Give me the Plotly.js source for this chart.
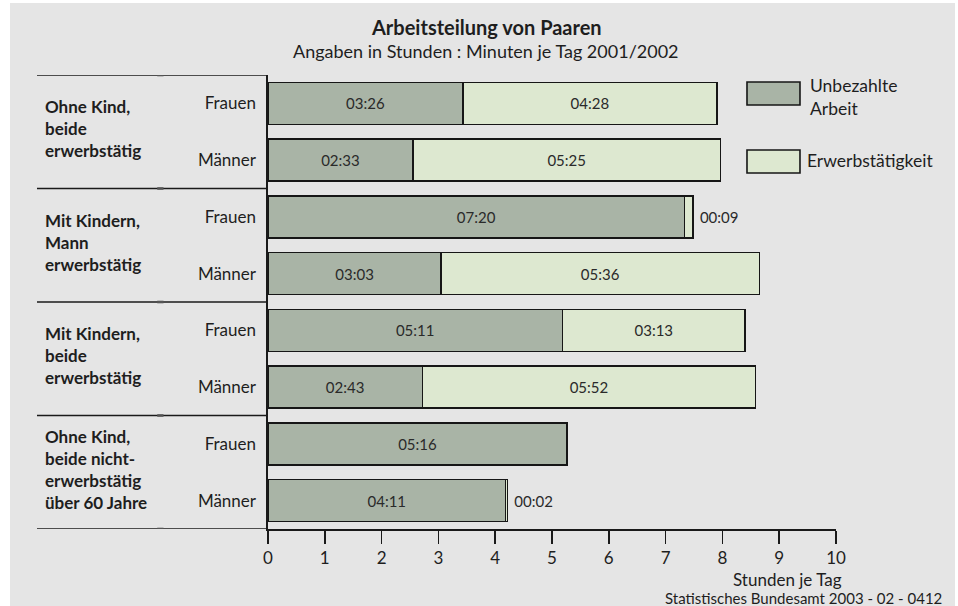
<!DOCTYPE html>
<html>
<head>
<meta charset="utf-8">
<script src="https://cdn.plot.ly/plotly-3.0.1.min.js"></script>
<style>
html,body{margin:0;padding:0;background:#ffffff;width:958px;height:606px;overflow:hidden;}
#chart{position:absolute;left:10px;top:3px;width:945px;height:603px;}
</style>
</head>
<body>
<div id="chart"></div>
<script>
// ---- data ----
const groups = [
  "Ohne Kind,<br>beide<br>erwerbstätig",
  "Mit Kindern,<br>Mann<br>erwerbstätig",
  "Mit Kindern,<br>beide<br>erwerbstätig",
  "Ohne Kind,<br>beide nicht-<br>erwerbstätig<br>über 60 Jahre"
];
const persons = ["Frauen","Männer","Frauen","Männer","Frauen","Männer","Frauen","Männer"];
// hh:mm per day
const unbezahlt = ["03:26","02:33","07:20","03:03","05:11","02:43","05:16","04:11"];
const erwerb    = ["04:28","05:25","00:09","05:36","03:13","05:52","00:00","00:02"];
const xTicks = [0,1,2,3,4,5,6,7,8,9,10];

function toHours(s){const p=s.split(":");return (+p[0])+(+p[1])/60;}
const rows = persons.map((_,i)=>i);
const uVals = unbezahlt.map(toHours);
const eVals = erwerb.map(toHours);

const cUnpaid = "#a9b4a6";
const cPaid = "#dde8d0";
const edge = "#161616";
const font = "Lato, 'Open Sans', sans-serif";
const txt = "#1e1e1e";

const traces = [
  {
    type:"bar", orientation:"h", name:"Unbezahlte Arbeit",
    y: rows, x: uVals, text: unbezahlt,
    textposition: "inside", insidetextanchor:"middle", textangle:0,
    constraintext:"none",
    textfont:{family:font,size:15,color:"#2a2a2a"},
    marker:{color:cUnpaid,line:{color:edge,width:1.6}},
    hoverinfo:"skip"
  },
  {
    type:"bar", orientation:"h", name:"Erwerbstätigkeit",
    y: rows, x: eVals,
    text: erwerb.map((s,i)=> eVals[i]>0 ? (eVals[i]<0.5 ? "\u00a0" + s : s) : ""),
    textposition: eVals.map(v=> v<0.5 ? "outside" : "inside"),
    insidetextanchor:"middle", textangle:0, constraintext:"none", cliponaxis:false,
    textfont:{family:font,size:15,color:"#2a2a2a"},
    marker:{color:cPaid,line:{color:edge,width:eVals.map(v=>v>0?1.6:0)}},
    hoverinfo:"skip"
  }
];

// geometry helpers (paper coords)
const xLeftLines = -0.4067;
const shapes = [];
[-0.5,1.5,3.5,5.5,7.5].forEach(yv=>{
  shapes.push({type:"line",xref:"paper",yref:"y",x0:xLeftLines,x1:0,y0:yv,y1:yv,
    line:{color:"#1a1a1a",width:1.6}});
  shapes.push({type:"line",xref:"paper",yref:"y",x0:-0.195,x1:-0.184,y0:yv,y1:yv,
    line:{color:"#555",width:2.6}});
});
// legend boxes
shapes.push({type:"rect",xref:"paper",yref:"paper",x0:0.8433,x1:0.9366,y0:0.9339,y1:0.9846,
  fillcolor:cUnpaid,line:{color:edge,width:1.6}});
shapes.push({type:"rect",xref:"paper",yref:"paper",x0:0.8433,x1:0.9366,y0:0.7841,y1:0.8348,
  fillcolor:cPaid,line:{color:edge,width:1.6}});

const annotations = [
  {text:"<b>Arbeitsteilung von Paaren</b>",xref:"paper",yref:"paper",x:0.384,y:1.1057,
   xanchor:"center",yanchor:"middle",showarrow:false,font:{family:font,size:20,color:txt}},
  {text:"Angaben in Stunden : Minuten je Tag 2001/2002",xref:"paper",yref:"paper",x:0.384,y:1.0529,
   xanchor:"center",yanchor:"middle",showarrow:false,font:{family:font,size:18,color:txt}},
  {text:"Unbezahlte<br>Arbeit",xref:"paper",yref:"paper",x:0.9507,y:0.9515,align:"left",
   xanchor:"left",yanchor:"middle",showarrow:false,font:{family:font,size:17.5,color:txt}},
  {text:"Erwerbstätigkeit",xref:"paper",yref:"paper",x:0.9454,y:0.8106,align:"left",
   xanchor:"left",yanchor:"middle",showarrow:false,font:{family:font,size:17.5,color:txt}},
  {text:"Stunden je Tag",xref:"paper",yref:"paper",x:1.0123,y:-0.1123,borderpad:0,
   xanchor:"right",yanchor:"middle",showarrow:false,font:{family:font,size:17,color:txt}},
  {text:"Statistisches Bundesamt 2003 - 02 - 0412",xref:"paper",yref:"paper",x:1.1884,y:-0.1520,borderpad:0,
   xanchor:"right",yanchor:"middle",showarrow:false,font:{family:font,size:15,color:txt}}
];
groups.forEach((g,i)=>{
  annotations.push({text:"<b>"+g+"</b>",xref:"paper",yref:"y",x:-0.396,y:2*i+0.45,
    xanchor:"left",yanchor:"middle",align:"left",showarrow:false,
    font:{family:font,size:17,color:txt}});
});

const layout = {
  width:945,height:603,
  margin:{l:258,r:119,t:72,b:77,pad:0},
  paper_bgcolor:"#e5e5e5",plot_bgcolor:"rgba(0,0,0,0)",
  barmode:"stack",bargap:0.26,showlegend:false,
  font:{family:font,color:txt},
  xaxis:{range:[0,10],tickvals:xTicks,ticktext:xTicks.map(String),
    showgrid:false,zeroline:false,showline:true,linecolor:"#1a1a1a",linewidth:1.6,
    ticks:"outside",ticklen:13,tickwidth:1.6,tickcolor:"#1a1a1a",
    tickfont:{family:font,size:17,color:txt},fixedrange:true},
  yaxis:{range:[7.5,-0.5],tickvals:rows,ticktext:persons,
    showgrid:false,zeroline:false,showline:true,linecolor:"#1a1a1a",linewidth:1.6,
    ticks:"",ticklabelstandoff:7,
    tickfont:{family:font,size:17,color:txt},fixedrange:true},
  shapes:shapes,annotations:annotations
};

Plotly.newPlot("chart",traces,layout,{displayModeBar:false,staticPlot:true});
</script>
</body>
</html>
